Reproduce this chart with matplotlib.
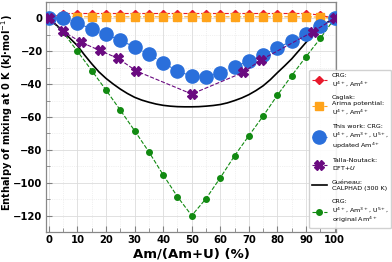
import matplotlib
matplotlib.use("Agg")
import matplotlib.pyplot as plt
from matplotlib.ticker import MultipleLocator

# ---------------------------------------------------------------
# データ
# ---------------------------------------------------------------
x_std = [0, 5, 10, 15, 20, 25, 30, 35, 40, 45, 50,
         55, 60, 65, 70, 75, 80, 85, 90, 95, 100]

crg_44 = [0, 3, 3, 3, 3, 3, 3, 3, 3, 3, 3,
          3, 3, 3, 3, 3, 3, 3, 3, 2, 0]
caglak = [0, 1, 1, 1, 1, 1, 1, 1, 1, 1, 1,
          1, 1, 1, 1, 1, 1, 1, 1, 0.8, 0]
this_work = [0, 0, -2.8, -6.5, -9.6, -13.3, -17.4, -21.8, -27.0, -32.0, -35.2,
             -35.6, -33.1, -29.5, -25.9, -22.2, -18.0, -13.7, -9.3, -4.8, 0]
crg_orig = [0, -8.5, -20, -31.7, -43.6, -55.8, -68.3, -81.2, -95.2, -108.5, -120,
            -109.7, -97, -83.6, -71.4, -59.4, -46.7, -34.8, -23.3, -12.2, 0]

x_talla = [0, 5, 11.3, 17.8, 24.2, 30.6, 50, 68, 74.3, 92.3, 100]
talla = [0, -7.9, -14.5, -19.5, -24.3, -32.0, -46.0, -32.9, -25.2, -8.2, 0]

x_calphad = [0, 2.5, 5, 7.5, 10, 12.5, 15, 17.5, 20, 22.5, 25, 27.5, 30, 32.5, 35,
             37.5, 40, 42.5, 45, 47.5, 50, 52.5, 55, 57.5, 60, 62.5, 65, 67.5,
             70, 72.5, 75, 77.5, 80, 82.5, 85, 87.5, 90, 92.5, 95, 97.5, 100]
calphad = [0, -3.8, -7.8, -12.3, -16.6, -22.3, -27.6, -32.5, -36.5, -39.9, -43.0,
           -45.7, -48.0, -49.7, -51.0, -52.1, -52.9, -53.4, -53.7, -53.8, -53.8,
           -53.7, -53.4, -53.0, -52.4, -51.4, -50.0, -48.4, -46.4, -43.9, -41.0,
           -37.3, -33.0, -28.9, -24.6, -19.6, -14.6, -9.7, -5.4, -2.3, 0]

labels = [
    "CRG:\nU$^{4+}$, Am$^{4+}$",
    "Caglak:\nArima potential:\nU$^{4+}$, Am$^{4+}$",
    "This work: CRG:\nU$^{4+}$, Am$^{3+}$, U$^{5+}$,\nupdated Am$^{4+}$",
    "Talla-Noutack:\nDFT+$U$",
    "Guéneau:\nCALPHAD (300 K)",
    "CRG:\nU$^{4+}$, Am$^{3+}$, U$^{5+}$,\noriginal Am$^{4+}$",
]

# ---------------------------------------------------------------
# 描画
# ---------------------------------------------------------------
fig = plt.figure(figsize=(3.92, 2.62), dpi=100)
ax = fig.add_axes([46 / 392, 30 / 262, 290 / 392, 230 / 262])

ax.plot(x_std, crg_44, "D--", color="#e8192c", ms=4.5, lw=0.8, label=labels[0], zorder=3)
ax.plot(x_std, caglak, "s--", color="#ffa31a", ms=5.5, lw=0.8, label=labels[1], zorder=3)
ax.plot(x_std, this_work, "o--", color="#2a6fdb", ms=9.5, lw=0.8, label=labels[2], zorder=4)
ax.plot(x_talla, talla, "X--", color="#6a0a80", ms=6.5, lw=0.8, label=labels[3], zorder=5)
ax.plot(x_calphad, calphad, "-", color="black", lw=1.2, label=labels[4], zorder=3)
ax.plot(x_std, crg_orig, "o--", color="#118a11", ms=4, lw=0.8, label=labels[5], zorder=3)

ax.set_xlim(-1, 100.5)
ax.set_ylim(-130, 10)
ax.xaxis.set_major_locator(MultipleLocator(10))
ax.xaxis.set_minor_locator(MultipleLocator(5))
ax.yaxis.set_major_locator(MultipleLocator(20))
ax.yaxis.set_minor_locator(MultipleLocator(10))
ax.tick_params(which="both", direction="in", color="gray", labelsize=7.2, pad=2.5)
ax.tick_params(which="major", length=4)
ax.tick_params(which="minor", length=3)
for lab in ax.get_xticklabels() + ax.get_yticklabels():
    lab.set_fontweight("bold")
for sp in ax.spines.values():
    sp.set_color("#888888")
    sp.set_linewidth(0.9)

ax.grid(True, which="major", color="#dcdcdc", lw=0.6)
ax.grid(True, which="minor", color="#e4e4e4", lw=0.5, ls=":")
ax.set_axisbelow(True)

ax.set_xlabel("Am/(Am+U) (%)", fontsize=9.5, fontweight="bold", labelpad=1.5)
ax.set_ylabel("Enthalpy of mixing at 0 K (kJ·mol$^{-1}$)", fontsize=7,
              fontweight="bold")
ax.yaxis.set_label_coords(-0.108, 0.52)

leg = fig.legend(loc="lower right", bbox_to_anchor=(0.998, 0.13), fontsize=4.6,
                 borderaxespad=0, handlelength=2.3, labelspacing=1.2,
                 framealpha=0.9, edgecolor="#cccccc", fancybox=True)

plt.savefig("out.png", dpi=100)
